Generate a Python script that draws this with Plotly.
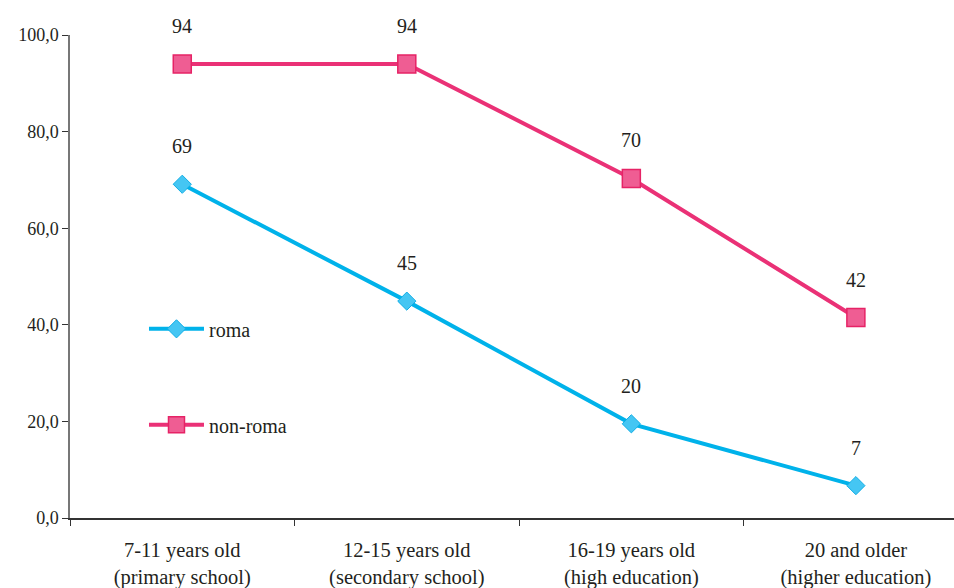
import plotly.graph_objects as go

categories = ["7-11 years old<br>(primary school)", "12-15 years old<br>(secondary school)",
              "16-19 years old<br>(high education)", "20 and older<br>(higher education)"]
roma = [69.1, 44.9, 19.5, 6.7]
non_roma = [94.0, 94.0, 70.3, 41.5]
roma_labels = ["69", "45", "20", "7"]
non_roma_labels = ["94", "94", "70", "42"]

FONT = "Liberation Serif"
TXT = "#231f20"

fig = go.Figure()
fig.add_trace(go.Scatter(
    x=categories, y=roma, name="roma", mode="lines+markers",
    line=dict(color="#00b2ea", width=4),
    marker=dict(symbol="diamond", size=14, color="#45c6f3",
                line=dict(color="#10aee6", width=1)),
    legendgroup="a"))
fig.add_trace(go.Scatter(
    x=categories, y=non_roma, name="non-roma", mode="lines+markers",
    line=dict(color="#ea3176", width=4),
    marker=dict(symbol="square", size=18, color="#ef5d93",
                line=dict(color="#e62366", width=1.5)),
    legendgroup="b"))

for ys, labs in ((roma, roma_labels), (non_roma, non_roma_labels)):
    for c, v, t in zip(categories, ys, labs):
        fig.add_annotation(x=c, y=v, text=t, showarrow=False, yshift=38,
                           font=dict(family=FONT, size=20, color=TXT))

fig.update_layout(
    width=954, height=588,
    margin=dict(l=70, r=0, t=35, b=70),
    paper_bgcolor="white", plot_bgcolor="white",
    separators=",.",
    font=dict(family=FONT, size=20, color=TXT),
    showlegend=True,
    legend=dict(x=0.0837, y=0.432, xanchor="left", yanchor="top",
                bgcolor="rgba(0,0,0,0)", traceorder="grouped", itemwidth=55,
                tracegroupgap=67, font=dict(family=FONT, size=20, color=TXT)),
    xaxis=dict(type="category", range=[-0.5, 3.437], showgrid=False,
               automargin=False,
               showline=True, linecolor="#333333", linewidth=1.5,
               ticks="outside", tickson="boundaries", ticklen=6,
               ticklabelstandoff=13,
               tickcolor="#333333", tickfont=dict(family=FONT, size=20.5, color=TXT)),
    yaxis=dict(range=[0, 100], dtick=20, tickformat=".1f", showgrid=False,
               zeroline=False, automargin=False,
               showline=True, linecolor="#777777", linewidth=1.5,
               ticks="outside", ticklen=6, tickcolor="#333333",
               tickfont=dict(family=FONT, size=18, color=TXT)),
)

fig.write_html("out.html", post_script="document.body.style.margin='0';",
               config={"displayModeBar": False})
